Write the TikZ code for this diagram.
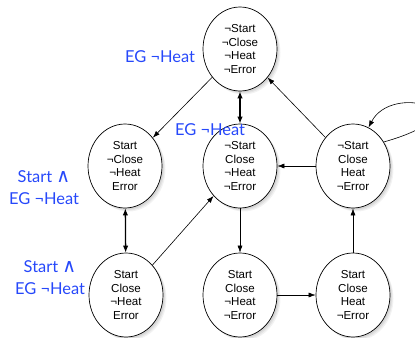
\documentclass[tikz,border=0pt]{standalone}
\usepackage{fontspec}
\setmainfont{Liberation Sans}
\newfontfamily\labelfont{Lato}
\newfontfamily\symfont{DejaVu Sans}
\usetikzlibrary{arrows.meta,shapes.geometric,shadows}
\definecolor{ctlblue}{RGB}{38,72,250}
\newcommand{\wedgesym}{{\symfont\fontsize{19}{22}\selectfont ∧}}
\tikzset{
  state/.style={ellipse, draw=black, line width=0.7pt, fill=white,
    minimum width=74bp, minimum height=84bp, inner sep=0pt,
    align=center, font=\fontsize{11.6}{14}\selectfont,
    drop shadow={shadow xshift=3.5bp, shadow yshift=-3.5bp, opacity=0.10},
    drop shadow={shadow xshift=2.5bp, shadow yshift=-2.5bp, opacity=0.12},
    drop shadow={shadow xshift=1.5bp, shadow yshift=-1.5bp, opacity=0.15}},
  edge/.style={-{Latex[length=7bp,width=5bp]}, line width=0.6pt},
  bothway/.style={{Latex[length=7bp,width=5.5bp]}-{Latex[length=7bp,width=5.5bp]}, line width=1.3pt},
  formula/.style={text=ctlblue, align=center, inner sep=0pt,
    font=\labelfont\fontsize{16.5}{22}\selectfont}
}
\begin{document}
\begin{tikzpicture}[x=1bp,y=-1bp]
\useasboundingbox (0,0) rectangle (415,338);

% states
\node[state] (t)  at (240,49)  {¬Start\\¬Close\\¬Heat\\¬Error};
\node[state] (lm) at (125,166) {Start\\¬Close\\¬Heat\\Error};
\node[state] (mm) at (240,166) {¬Start\\Close\\¬Heat\\¬Error};
\node[state] (rm) at (353,166) {¬Start\\Close\\Heat\\¬Error};
\node[state] (lb) at (126,295) {Start\\Close\\¬Heat\\Error};
\node[state] (mb) at (240,295) {Start\\Close\\¬Heat\\¬Error};
\node[state] (rb) at (353,295) {Start\\Close\\Heat\\¬Error};

% transitions
\draw[edge] (t) -- (lm);
\draw[bothway] (t) -- (mm);
\draw[edge] (rm) -- (t);
\draw[edge] (rm.38) .. controls (490,112) and (392,82) .. (rm.68);
\draw[edge] (rm) -- (mm);
\draw[bothway] (lm) -- (lb);
\draw[edge] (lb) -- (mm);
\draw[edge] (mm) -- (mb);
\draw[edge] (mb) -- (rb);
\draw[edge] (rb) -- (rm);

% formulas holding in the states
\node[formula] (f1) at (160,57)  {EG ¬Heat};
\node[formula] (f2) at (210,130) {EG ¬Heat};
\node[formula] (f3) at (44,188)  {Start \wedgesym\\EG ¬Heat};
\node[formula] (f4) at (50,278)  {Start \wedgesym\\EG ¬Heat};
\end{tikzpicture}
\end{document}
